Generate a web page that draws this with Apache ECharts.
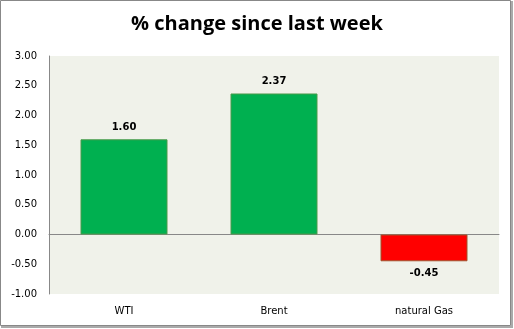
<!DOCTYPE html>
<html><head><meta charset="utf-8">
<script src="https://cdn.jsdelivr.net/npm/echarts@6/dist/echarts.min.js"></script>
<style>html,body{margin:0;padding:0;background:#fff}#c{width:514px;height:329px}</style>
</head><body><div id="c"></div>
<script>
const categories = ["WTI", "Brent", "natural Gas"];
const values = [1.60, 2.37, -0.45];
const yTicks = {min: -1, max: 3, interval: 0.5};
const chart = echarts.init(document.getElementById('c'));
const frame = [
  {type: 'rect', shape: {x: 2, y: 2, width: 510, height: 325}, style: {fill: 'none', stroke: '#aaa', lineWidth: 2}, z: -2},
  {type: 'rect', shape: {x: 0.5, y: 0.5, width: 510, height: 325}, style: {fill: '#fff', stroke: '#888', lineWidth: 1}, z: -1}
];
chart.setOption({
  animation: false,
  title: {text: '% change since last week', left: 'center', top: 9,
    textStyle: {fontFamily: 'Open Sans', fontWeight: 'bold', fontSize: 20, color: '#000'}},
  grid: {left: 49, top: 56, right: 15, bottom: 35, show: true, backgroundColor: '#F0F2EA', borderWidth: 0},
  xAxis: {type: 'category', data: categories,
    axisLine: {onZero: true, lineStyle: {color: '#888'}}, axisTick: {show: false},
    axisLabel: {show: false}},
  yAxis: {type: 'value', min: yTicks.min, max: yTicks.max, interval: yTicks.interval,
    axisLine: {show: true, lineStyle: {color: '#888'}}, axisTick: {show: false},
    splitLine: {show: false},
    axisLabel: {fontFamily: 'DejaVu Sans', fontSize: 10, color: '#000', margin: 12,
      formatter: v => v.toFixed(2)}},
  series: [{
    type: 'bar', barWidth: '58%',
    data: values.map(v => ({value: v,
      itemStyle: {color: v >= 0 ? '#00B050' : '#FF0000', borderColor: v >= 0 ? '#4B9A4B' : '#A0522D', borderWidth: 1},
      label: {position: v >= 0 ? 'top' : 'bottom'}})),
    label: {show: true, distance: 7, fontFamily: 'DejaVu Sans', fontSize: 10, fontWeight: 'bold', color: '#000',
      formatter: p => p.value.toFixed(2)}
  }]
});
const extra = categories.map((c, i) => {
  const pt = chart.convertToPixel({xAxisIndex: 0, yAxisIndex: 0}, [i, -1]);
  return {type: 'text', x: pt[0], y: pt[1] + 12, style: {text: c, fontFamily: 'DejaVu Sans', fontSize: 10, fill: '#000', align: 'center', verticalAlign: 'top'}};
});
chart.setOption({graphic: frame.concat(extra)});
</script></body></html>
